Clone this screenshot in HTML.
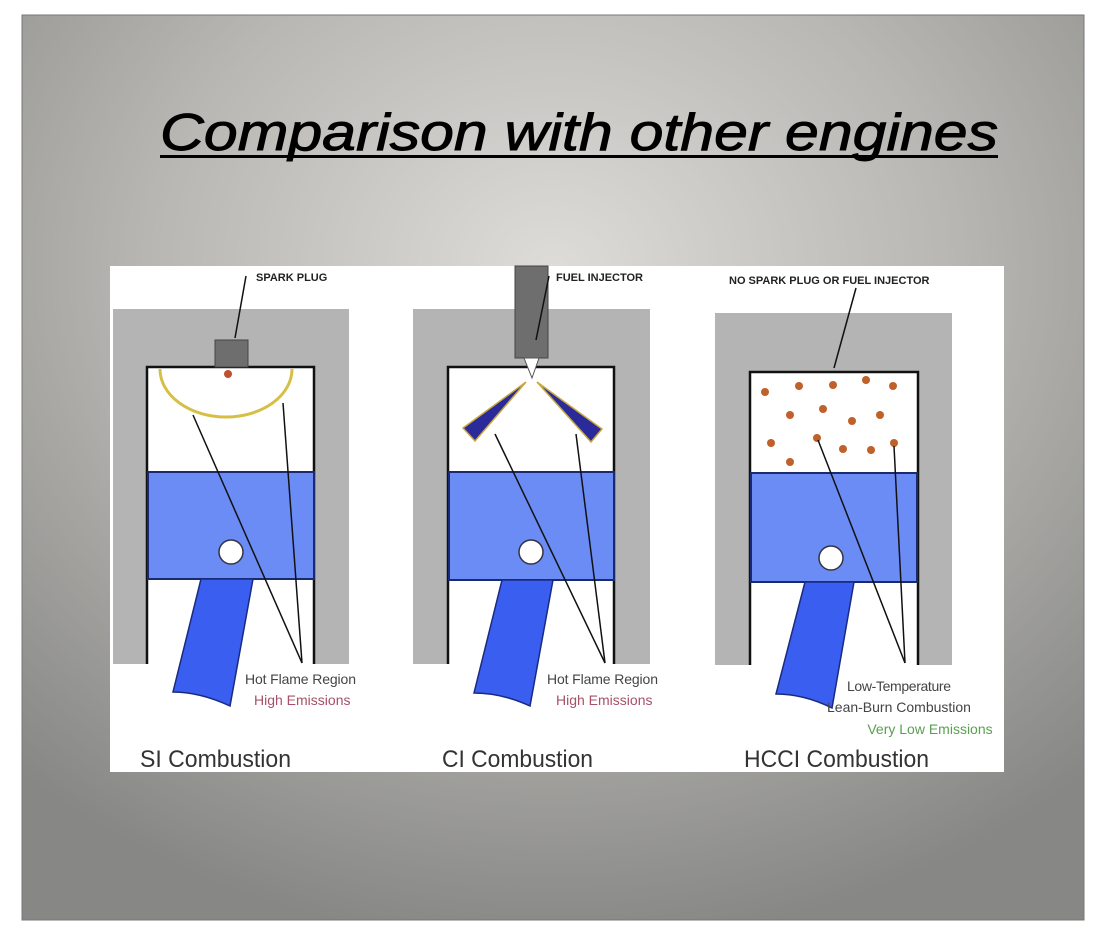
<!DOCTYPE html>
<html><head><meta charset="utf-8"><style>html,body{margin:0;padding:0;background:#fff}svg{display:block}</style></head><body>
<svg width="1100" height="940" viewBox="0 0 1100 940" xmlns="http://www.w3.org/2000/svg" font-family="Liberation Sans, sans-serif">
<defs>
<radialGradient id="bg" cx="0.5" cy="0.28" r="0.75">
<stop offset="0" stop-color="#dddcd8"/><stop offset="0.5" stop-color="#b8b7b3"/><stop offset="1" stop-color="#878785"/>
</radialGradient>
</defs>
<rect x="0" y="0" width="1100" height="940" fill="#fff"/>
<rect x="22" y="15" width="1062" height="905" fill="url(#bg)" stroke="#777" stroke-width="1"/>
<text x="160" y="150" font-size="52" font-style="italic" fill="#000" stroke="#000" stroke-width="0.9" textLength="838" lengthAdjust="spacingAndGlyphs">Comparison with other engines</text>
<rect x="160" y="155" width="838" height="3" fill="#000"/>
<rect x="110" y="266" width="894" height="506" fill="#fff"/>

<!-- SI -->
<g>
<path d="M113 309 H349 V664 H314 V367 H147 V664 H113 Z" fill="#b4b4b4"/>
<path d="M147 664 V367 H314 V664" fill="none" stroke="#111" stroke-width="2.5"/>
<rect x="148" y="472" width="166" height="107" fill="#6b8cf4" stroke="#1a2a70" stroke-width="2"/>
<circle cx="231" cy="552" r="12" fill="#fff" stroke="#334" stroke-width="1.5"/>
<path d="M201 579 L253 579 L230 706 Q200 692 173 692 Z" fill="#3a5ef0" stroke="#1a2a80" stroke-width="1.5"/>
<rect x="215" y="340" width="33" height="27" fill="#6e6e6e" stroke="#444"/>
<path d="M160 369 A66 48 0 0 0 292 369" fill="none" stroke="#d7bf45" stroke-width="3"/>
<circle cx="228" cy="374" r="4" fill="#c05030"/>
<line x1="246" y1="276" x2="235" y2="338" stroke="#111" stroke-width="1.5"/>
<line x1="193" y1="415" x2="302" y2="663" stroke="#111" stroke-width="1.5"/>
<line x1="283" y1="403" x2="302" y2="663" stroke="#111" stroke-width="1.5"/>
<text x="256" y="281" font-size="11" font-weight="bold" fill="#222">SPARK PLUG</text>
<text x="245" y="684" font-size="14" fill="#444" textLength="111">Hot Flame Region</text>
<text x="254" y="705" font-size="14" fill="#a85068">High Emissions</text>
<text x="140" y="767" font-size="24" fill="#333" textLength="151" lengthAdjust="spacingAndGlyphs">SI Combustion</text>
</g>

<!-- CI -->
<g>
<path d="M413 309 H650 V664 H614 V367 H448 V664 H413 Z" fill="#b4b4b4"/>
<path d="M448 664 V367 H614 V664" fill="none" stroke="#111" stroke-width="2.5"/>
<rect x="449" y="472" width="165" height="108" fill="#6b8cf4" stroke="#1a2a70" stroke-width="2"/>
<circle cx="531" cy="552" r="12" fill="#fff" stroke="#334" stroke-width="1.5"/>
<path d="M502 580 L553 580 L530 706 Q502 693 474 693 Z" fill="#3a5ef0" stroke="#1a2a80" stroke-width="1.5"/>
<rect x="515" y="266" width="33" height="92" fill="#6e6e6e" stroke="#444"/>
<polygon points="524,358 539,358 532,378" fill="#fff" stroke="#555"/>
<polygon points="526,382 463,428 475,441" fill="#2a2a9a" stroke="#c9a840" stroke-width="1.5"/>
<polygon points="537,382 602,429 591,442" fill="#2a2a9a" stroke="#c9a840" stroke-width="1.5"/>
<line x1="549" y1="276" x2="536" y2="340" stroke="#111" stroke-width="1.5"/>
<line x1="495" y1="434" x2="605" y2="663" stroke="#111" stroke-width="1.5"/>
<line x1="576" y1="434" x2="605" y2="663" stroke="#111" stroke-width="1.5"/>
<text x="556" y="281" font-size="11" font-weight="bold" fill="#222">FUEL INJECTOR</text>
<text x="547" y="684" font-size="14" fill="#444" textLength="111">Hot Flame Region</text>
<text x="556" y="705" font-size="14" fill="#a85068">High Emissions</text>
<text x="442" y="767" font-size="24" fill="#333" textLength="151" lengthAdjust="spacingAndGlyphs">CI Combustion</text>
</g>

<!-- HCCI -->
<g>
<path d="M715 313 H952 V665 H918 V372 H750 V665 H715 Z" fill="#b4b4b4"/>
<path d="M750 665 V372 H918 V665" fill="none" stroke="#111" stroke-width="2.5"/>
<rect x="751" y="473" width="166" height="109" fill="#6b8cf4" stroke="#1a2a70" stroke-width="2"/>
<circle cx="831" cy="558" r="12" fill="#fff" stroke="#334" stroke-width="1.5"/>
<path d="M805 582 L854 582 L832 708 Q804 694 776 694 Z" fill="#3a5ef0" stroke="#1a2a80" stroke-width="1.5"/>
<g fill="#c0602a">
<circle cx="765" cy="392" r="4"/><circle cx="799" cy="386" r="4"/><circle cx="833" cy="385" r="4"/><circle cx="866" cy="380" r="4"/><circle cx="893" cy="386" r="4"/>
<circle cx="790" cy="415" r="4"/><circle cx="823" cy="409" r="4"/><circle cx="852" cy="421" r="4"/><circle cx="880" cy="415" r="4"/>
<circle cx="771" cy="443" r="4"/><circle cx="817" cy="438" r="4"/><circle cx="843" cy="449" r="4"/><circle cx="871" cy="450" r="4"/><circle cx="894" cy="443" r="4"/><circle cx="790" cy="462" r="4"/>
</g>
<line x1="856" y1="288" x2="834" y2="368" stroke="#111" stroke-width="1.5"/>
<line x1="818" y1="440" x2="905" y2="663" stroke="#111" stroke-width="1.5"/>
<line x1="894" y1="446" x2="905" y2="663" stroke="#111" stroke-width="1.5"/>
<text x="729" y="284" font-size="11" font-weight="bold" fill="#222">NO SPARK PLUG OR FUEL INJECTOR</text>
<text x="899" y="691" font-size="14" fill="#444" text-anchor="middle" textLength="104">Low-Temperature</text>
<text x="899" y="712" font-size="14" fill="#444" text-anchor="middle">Lean-Burn Combustion</text>
<text x="930" y="734" font-size="14" fill="#5aa050" text-anchor="middle">Very Low Emissions</text>
<text x="744" y="767" font-size="24" fill="#333" textLength="185" lengthAdjust="spacingAndGlyphs">HCCI Combustion</text>
</g>
</svg>
</body></html>
